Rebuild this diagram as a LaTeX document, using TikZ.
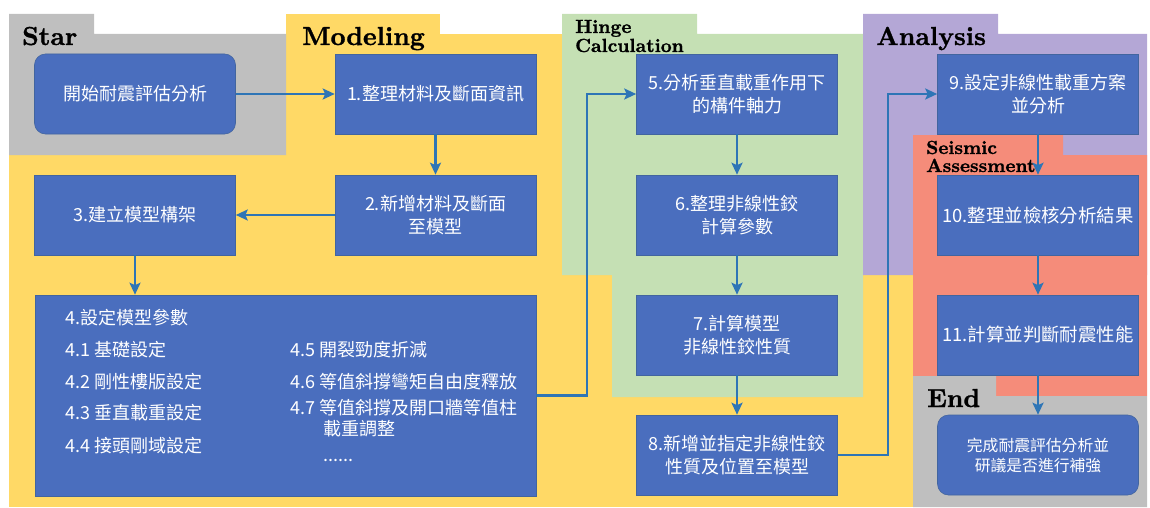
\documentclass[tikz,border=0pt]{standalone}
\usepackage{fontspec}
\newfontfamily\cjk{Noto Sans CJK TC}
\newfontfamily\zonefont[FakeBold=1.2]{lmroman10-bold.otf}
\usetikzlibrary{arrows.meta,calc}

\definecolor{bgyellow}{HTML}{FFD966}
\definecolor{bggray}{HTML}{BFBFBF}
\definecolor{bggreen}{HTML}{C5E0B4}
\definecolor{bgpurple}{HTML}{B4A7D6}
\definecolor{bgsalmon}{HTML}{F58C7A}
\definecolor{boxblue}{HTML}{4A6EBE}
\definecolor{boxedge}{HTML}{42659F}
\definecolor{flow}{HTML}{2E75B6}

\tikzset{
  stepbox/.style={fill=boxblue, draw=boxedge, line width=0.6pt, text=white,
    align=center, inner sep=0pt, minimum width=201pt, minimum height=80pt,
    font=\cjk\fontsize{18}{23}\selectfont},
  termbox/.style={stepbox, rounded corners=11pt},
  flowarrow/.style={draw=flow, line width=2.4pt,
    -{Stealth[length=12pt,width=11pt,inset=2.5pt]}},
  zonelabel/.style={font=\zonefont\fontsize{26}{28}\selectfont,
    anchor=base west, inner sep=0pt},
  zonesmall/.style={font=\zonefont\fontsize{19}{19}\selectfont,
    anchor=base west, inner sep=0pt},
  itemtext/.style={font=\cjk\fontsize{18}{22}\selectfont, text=white,
    anchor=west, inner sep=0pt}
}

\begin{document}
\begin{tikzpicture}[x=1pt,y=-1pt]
\useasboundingbox (0,0) rectangle (1150,508);

% ---- phase zones ----
\fill[bgyellow] (9,34) rectangle (913,507);
\fill[bgyellow] (286,14) rectangle (440,35);
\fill[bggray] (9,14) -- (94,14) -- (94,34) -- (286,34) -- (286,155) -- (9,155) -- cycle;
\fill[bggreen] (562,14) -- (697,14) -- (697,34) -- (863,34) -- (863,397)
  -- (612,397) -- (612,275) -- (562,275) -- cycle;
\fill[bgpurple] (863,14) -- (998,14) -- (998,34) -- (1147,34) -- (1147,275)
  -- (863,275) -- cycle;
\fill[bgsalmon] (913,135) -- (1063,135) -- (1063,155) -- (1147,155) -- (1147,396)
  -- (996,396) -- (996,376) -- (913,376) -- cycle;
\fill[bggray] (913,376) -- (996,376) -- (996,396) -- (1147,396) -- (1147,507)
  -- (913,507) -- cycle;

% ---- zone titles ----
\node[zonelabel] (lstar) at (22,45) {Star};
\node[zonelabel] (lmodel) at (302,45) {Modeling};
\node[zonesmall] (lhinge1) at (575,33) {Hinge};
\node[zonesmall] (lhinge2) at (575,52) {Calculation};
\node[zonelabel] (lanal) at (876,45) {Analysis};
\node[zonesmall] (lseis1) at (926,154) {Seismic};
\node[zonesmall] (lseis2) at (926,172) {Assessment};
\node[zonelabel] (lend) at (927,407) {End};

% ---- process steps ----
\node[termbox] (start) at (135,94) {開始耐震評估分析};
\node[stepbox] (m1) at (435.5,94) {1.整理材料及斷面資訊};
\node[stepbox] (m2) at (435.5,215) {2.新增材料及斷面\\至模型};
\node[stepbox] (m3) at (135,215) {3.建立模型構架};
\node[stepbox, minimum width=501pt, minimum height=201pt] (m4) at (285.5,395.5) {};

\node[stepbox] (h5) at (737,94) {5.分析垂直載重作用下\\的構件軸力};
\node[stepbox] (h6) at (737,215) {6.整理非線性鉸\\計算參數};
\node[stepbox] (h7) at (737,335) {7.計算模型\\非線性鉸性質};
\node[stepbox] (h8) at (737,455) {8.新增並指定非線性鉸\\性質及位置至模型};

\node[stepbox] (a9) at (1038,94) {9.設定非線性載重方案\\並分析};
\node[stepbox, font=\cjk\fontsize{18.4}{23}\selectfont] (s10) at (1038,215) {10.整理並檢核分析結果};
\node[stepbox, font=\cjk\fontsize{18.4}{23}\selectfont] (s11) at (1038,335) {11.計算並判斷耐震性能};
\node[termbox, font=\cjk\fontsize{15.8}{20}\selectfont] (finish) at (1038,455) {完成耐震評估分析並\\研議是否進行補強};

% ---- model parameter items ----
\node[itemtext] (p0) at (65,318) {4.設定模型參數};
\node[itemtext] (p1) at (65,350) {4.1 基礎設定};
\node[itemtext] (p2) at (65,382) {4.2 剛性樓版設定};
\node[itemtext] (p3) at (65,413) {4.3 垂直載重設定};
\node[itemtext] (p4) at (65,446) {4.4 接頭剛域設定};
\node[itemtext] (p5) at (290,350) {4.5 開裂勁度折減};
\node[itemtext] (p6) at (290,382) {4.6 等值斜撐彎矩自由度釋放};
\node[itemtext] (p7) at (290,408) {4.7 等值斜撐及開口牆等值柱};
\node[itemtext] (p7b) at (323,429) {載重調整};
\node[itemtext] (pdots) at (323,460) {......};

% ---- connectors ----
\coordinate (bendA) at (587,0);
\coordinate (bendB) at (888,0);
\draw[flowarrow] (start) -- (m1);
\draw[flowarrow] (m1) -- (m2);
\draw[flowarrow] (m2) -- (m3);
\draw[flowarrow] (m3.south) -- (m3.south |- m4.north);
\draw[flowarrow] (m4.east) -| (bendA |- h5.west) -- (h5.west);
\draw[flowarrow] (h5) -- (h6);
\draw[flowarrow] (h6) -- (h7);
\draw[flowarrow] (h7) -- (h8);
\draw[flowarrow] (h8.east) -| (bendB |- a9.west) -- (a9.west);
\draw[flowarrow] (a9) -- (s10);
\draw[flowarrow] (s10) -- (s11);
\draw[flowarrow] (s11) -- (finish);
\end{tikzpicture}
\end{document}
